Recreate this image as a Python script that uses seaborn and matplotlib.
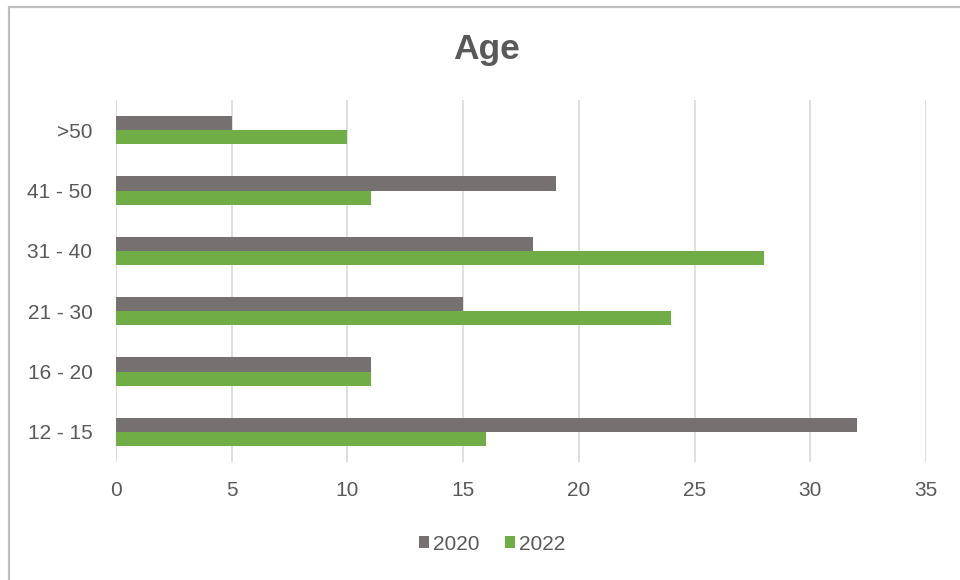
import matplotlib
matplotlib.use("Agg")
import matplotlib.pyplot as plt
from matplotlib.patches import Rectangle, Patch
import seaborn as sns
import pandas as pd

# Age bands (top to bottom as drawn) and respondent counts per survey year
categories = [">50", "41 - 50", "31 - 40", "21 - 30", "16 - 20", "12 - 15"]
years = ["2020", "2022"]
values_2020 = [5, 19, 18, 15, 11, 32]
values_2022 = [10, 11, 28, 24, 11, 16]
x_ticks = [0, 5, 10, 15, 20, 25, 30, 35]

df = pd.DataFrame({
    "age": categories * 2,
    "year": [years[0]] * len(categories) + [years[1]] * len(categories),
    "count": values_2020 + values_2022,
})

sns.set_theme(style="white")
plt.rcParams["font.family"] = ["Liberation Sans", "DejaVu Sans"]

text_color = "#595959"
grid_color = "#D9D9D9"
palette = {"2020": "#767171", "2022": "#70AD47"}

fig = plt.figure(figsize=(9.6, 5.8), dpi=100)
ax = fig.add_axes([116 / 960, 1 - 462 / 580, (926 - 116) / 960, (462 - 100) / 580])

sns.barplot(data=df, y="age", x="count", hue="year", order=categories,
            hue_order=years, palette=palette, orient="h", width=0.47,
            saturation=1, ax=ax, legend=False, zorder=3, linewidth=0)

ax.set_xlim(0, 35)
ax.set_ylim(len(categories) - 0.5, -0.5)
ax.set_xticks(x_ticks)
ax.set_xticklabels([str(t) for t in x_ticks])
ax.set_xlabel("")
ax.set_ylabel("")
ax.xaxis.grid(True, color=grid_color, linewidth=1.2, zorder=0)
ax.yaxis.grid(False)
for side in ax.spines.values():
    side.set_visible(False)
ax.tick_params(axis="both", length=0, labelsize=15, colors=text_color)
ax.tick_params(axis="x", pad=14)
ax.tick_params(axis="y", pad=17)
for lbl in ax.get_xticklabels() + ax.get_yticklabels():
    lbl.set_color(text_color)

fig.text(487 / 960, 1 - 49 / 580, "Age", ha="center", va="center",
         fontsize=25.5, fontweight="bold", color=text_color)

handles = [Patch(facecolor=palette[y], edgecolor="none") for y in years]
fig.legend(handles, years, loc="center", bbox_to_anchor=(492 / 960, 1 - 544 / 580),
           ncol=2, frameon=False, fontsize=15, handlelength=0.5, handleheight=0.5,
           handletextpad=0.2, columnspacing=1.2, labelcolor=text_color)

# chart-area border (open at right and bottom)
fig.patches.append(Rectangle((8.5 / 960, -0.2), 1.5, 1.2 - 6.5 / 580,
                             transform=fig.transFigure, fill=False,
                             edgecolor="#BFBFBF", linewidth=1.6))

fig.savefig("out.png", dpi=100, facecolor="white")
